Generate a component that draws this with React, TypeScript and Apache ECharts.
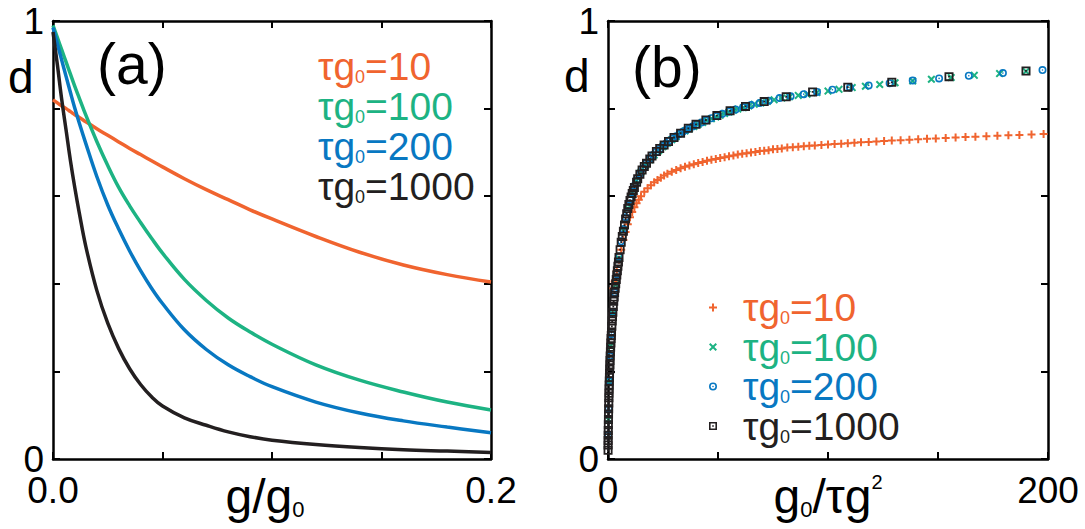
import React, { useEffect, useRef } from "react";
import * as echarts from "echarts";

const FONT = '"Liberation Sans", Arial, Helvetica, sans-serif';
const ORANGE = "#F0642F";
const GREEN = "#1DB383";
const BLUE = "#0878C2";
const BLACK = "#231F20";

const tauLabels = ["10", "100", "200", "1000"];
const colors = [ORANGE, GREEN, BLUE, BLACK];

// Panel (a): d versus g/g0
const gA = [0, 0.002, 0.004, 0.006, 0.008, 0.01, 0.012, 0.015, 0.02, 0.025, 0.03, 0.035, 0.04, 0.045, 0.05, 0.06, 0.07, 0.08, 0.09, 0.1, 0.12, 0.14, 0.16, 0.18, 0.2];
const dA10 = [0.82, 0.813, 0.806, 0.8, 0.793, 0.786, 0.78, 0.77, 0.754, 0.739, 0.724, 0.709, 0.695, 0.681, 0.667, 0.64, 0.615, 0.592, 0.569, 0.548, 0.508, 0.472, 0.443, 0.421, 0.404];
const dA100 = [0.99, 0.962, 0.934, 0.906, 0.878, 0.85, 0.824, 0.785, 0.725, 0.67, 0.62, 0.578, 0.54, 0.504, 0.47, 0.41, 0.362, 0.322, 0.29, 0.262, 0.215, 0.18, 0.153, 0.13, 0.112];
const dA200 = [0.985, 0.948, 0.91, 0.873, 0.836, 0.8, 0.767, 0.72, 0.645, 0.58, 0.525, 0.475, 0.43, 0.39, 0.355, 0.295, 0.25, 0.215, 0.188, 0.165, 0.13, 0.105, 0.087, 0.073, 0.06];
const dA1000 = [0.975, 0.9, 0.82, 0.75, 0.68, 0.618, 0.562, 0.485, 0.385, 0.31, 0.252, 0.206, 0.17, 0.142, 0.121, 0.094, 0.077, 0.062, 0.051, 0.043, 0.033, 0.026, 0.021, 0.018, 0.015];

// Panel (b): d versus g0/(tau g^2)
const bX10 = [198, 192.5, 187, 182, 177, 172, 167, 162.5, 158, 153.5, 149, 145, 141, 137, 133, 129, 125.5, 122, 118.5, 115, 112, 109, 106, 103, 100, 97, 94, 91.5, 89, 86.5, 84, 81.5, 79, 77, 75, 73, 71, 69, 67, 65, 63, 61, 59, 57, 55, 53, 51, 49, 47, 45, 43, 41, 39, 37, 35, 33, 31, 29, 27, 25.5, 24, 22.5, 21, 19.5, 18, 16.5, 15, 14, 13, 12, 11, 10, 9, 8, 7, 6, 5, 4, 3, 2.5];
const bD10 = [0.742, 0.741, 0.74, 0.739, 0.738, 0.737, 0.736, 0.735, 0.734, 0.733, 0.732, 0.731, 0.73, 0.729, 0.728, 0.727, 0.726, 0.725, 0.724, 0.723, 0.722, 0.721, 0.72, 0.719, 0.718, 0.717, 0.716, 0.715, 0.714, 0.713, 0.712, 0.711, 0.709, 0.708, 0.707, 0.705, 0.704, 0.703, 0.701, 0.7, 0.698, 0.697, 0.695, 0.693, 0.691, 0.689, 0.687, 0.685, 0.683, 0.681, 0.678, 0.676, 0.673, 0.67, 0.667, 0.664, 0.66, 0.656, 0.651, 0.647, 0.642, 0.637, 0.632, 0.625, 0.618, 0.61, 0.6, 0.592, 0.584, 0.575, 0.564, 0.552, 0.536, 0.518, 0.5, 0.478, 0.455, 0.43, 0.405, 0.39];

const bX100 = [190, 178, 166.5, 156, 147, 138.5, 130.5, 123.5, 117, 111, 105, 100, 95, 90.5, 86.5, 82.5, 79, 75.5, 72.5, 69.5, 66.5, 64, 61.5, 59, 57, 55, 53, 51, 49, 47, 45, 43, 41, 39, 37, 35, 33, 31, 29, 27, 25, 23, 21, 19, 17, 15, 13, 11, 9, 7, 5, 3.5, 2.2, 1.2, 0.6, 0.2];
const bD100 = [0.885, 0.88, 0.876, 0.871, 0.867, 0.863, 0.859, 0.855, 0.851, 0.848, 0.844, 0.84, 0.837, 0.833, 0.83, 0.827, 0.824, 0.82, 0.817, 0.813, 0.81, 0.806, 0.802, 0.799, 0.796, 0.792, 0.789, 0.785, 0.781, 0.777, 0.773, 0.768, 0.764, 0.759, 0.754, 0.749, 0.743, 0.736, 0.729, 0.721, 0.713, 0.704, 0.694, 0.683, 0.67, 0.655, 0.635, 0.608, 0.572, 0.522, 0.458, 0.398, 0.332, 0.258, 0.176, 0.09];

const bX200 = [197.5, 179.5, 164, 150.5, 138.5, 128, 118.5, 110, 102, 95, 89, 83, 78, 73, 69, 65, 61.5, 58, 55, 52, 49.5, 47, 44.5, 42.5, 40.5, 38.5, 37, 35.5, 34, 32.5, 31, 29.5, 28, 26.5, 25, 23.5, 22, 20.5, 19, 17.5, 16, 14.5, 13, 12, 11, 10, 9, 8, 7, 6, 5, 4, 3, 2.2, 1.5, 1.0, 0.6, 0.3, 0.1];
const bD200 = [0.888, 0.881, 0.875, 0.869, 0.864, 0.858, 0.853, 0.848, 0.843, 0.838, 0.833, 0.828, 0.824, 0.818, 0.813, 0.808, 0.803, 0.798, 0.793, 0.788, 0.783, 0.778, 0.773, 0.768, 0.764, 0.759, 0.755, 0.751, 0.747, 0.742, 0.737, 0.732, 0.727, 0.721, 0.715, 0.708, 0.701, 0.694, 0.685, 0.675, 0.664, 0.651, 0.636, 0.624, 0.609, 0.592, 0.574, 0.552, 0.525, 0.497, 0.462, 0.422, 0.38, 0.335, 0.285, 0.235, 0.178, 0.115, 0.055];

const bX1000 = [190, 155, 129, 109, 93, 81, 71, 62.5, 55.5, 49.5, 44.5, 40, 36.5, 33, 30, 27.5, 25.5, 23.5, 22, 20, 19, 17.5, 16.5, 15.5, 14.5, 13.5, 13, 12, 11.5, 11, 10.5, 10, 9.5, 9, 8.5, 8, 7.5, 7, 6.5, 6, 5.5, 5, 4.75, 4.5, 4.25, 4, 3.75, 3.5, 3.25, 3, 2.8, 2.6, 2.4, 2.2, 2.05, 1.9, 1.75, 1.6, 1.5, 1.4, 1.3, 1.2, 1.1, 1.0, 0.92, 0.85, 0.78, 0.7, 0.65, 0.6, 0.55, 0.5, 0.45, 0.4, 0.35, 0.3, 0.25, 0.2, 0.16, 0.12, 0.09, 0.06, 0.045, 0.03];
const bD1000 = [0.886, 0.873, 0.86, 0.849, 0.838, 0.827, 0.816, 0.805, 0.795, 0.784, 0.774, 0.764, 0.755, 0.744, 0.734, 0.725, 0.717, 0.709, 0.702, 0.692, 0.685, 0.675, 0.668, 0.66, 0.65, 0.64, 0.632, 0.62, 0.613, 0.606, 0.598, 0.59, 0.581, 0.572, 0.56, 0.548, 0.534, 0.52, 0.508, 0.495, 0.478, 0.46, 0.45, 0.44, 0.43, 0.42, 0.41, 0.4, 0.39, 0.38, 0.37, 0.36, 0.348, 0.335, 0.325, 0.315, 0.303, 0.29, 0.282, 0.275, 0.265, 0.255, 0.245, 0.235, 0.225, 0.215, 0.205, 0.195, 0.186, 0.178, 0.169, 0.16, 0.15, 0.14, 0.128, 0.115, 0.103, 0.09, 0.078, 0.065, 0.054, 0.042, 0.032, 0.02];

const SYM_PLUS = "path://M3,0H5V3H8V5H5V8H3V5H0V3H3Z";
const SYM_CROSS = "path://M1.4,0L4,2.6L6.6,0L8,1.4L5.4,4L8,6.6L6.6,8L4,5.4L1.4,8L0,6.6L2.6,4L0,1.4Z";
const SYM_CIRC = "path://M5,0A5,5,0,1,0,5,10A5,5,0,1,0,5,0Z M5,2A3,3,0,1,1,5,8A3,3,0,1,1,5,2Z M5,4A1,1,0,1,0,5,6A1,1,0,1,0,5,4Z";
const SYM_SQ = "path://M0,0H10V10H0Z M2,2V8H8V2Z M4,4H6V6H4Z";
const symbols = [SYM_PLUS, SYM_CROSS, SYM_CIRC, SYM_SQ];
const symbolSizes = [8, 8, 8, 9];

const zip = (xs: number[], ys: number[]) => xs.map((x, i) => [x, ys[i]]);

const BIG = 39;
const richFor = (color: string, F = BIG) => {
  const fs = Math.round(F * 0.45);
  const fp = Math.round(F * 0.42);
  return {
    n: { color, fontSize: F, fontFamily: FONT, lineHeight: F },
    s: { color, fontSize: fs, fontFamily: FONT, lineHeight: Math.round(0.307 * F + 0.693 * fs), verticalAlign: "bottom" },
    p: { color, fontSize: fp, fontFamily: FONT, lineHeight: Math.round(0.26 * F + 0.74 * fp), verticalAlign: "top" },
  };
};

const legendText = (name: string) => `{n|τg}{s|0}{n|=${name.split(":")[1]}}`;

export default function App() {
  const ref = useRef<HTMLDivElement>(null);
  useEffect(() => {
    if (!ref.current) return;
    const chart = echarts.init(ref.current, undefined, { renderer: "svg" });
    const axisLine = { show: true, onZero: false, lineStyle: { color: "#000", width: 2.5 } };
    const tick = { show: true, inside: true, length: 7, lineStyle: { color: "#000", width: 2 } };
    const tickLabel = { color: "#000", fontSize: 37, fontFamily: FONT };
    const grids = [
      { left: 53, top: 21, width: 438, height: 438, containLabel: false, outerBoundsMode: "none" },
      { left: 608, top: 21, width: 440, height: 438, containLabel: false, outerBoundsMode: "none" },
    ];
    const xMax = [0.2, 200];
    const xInt = [0.05, 50];
    const xAxes: any[] = [];
    const yAxes: any[] = [];
    [0, 1].forEach((gi) => {
      xAxes.push({
        type: "value", gridIndex: gi, position: "bottom", min: 0, max: xMax[gi], interval: xInt[gi],
        axisLine, axisTick: tick, splitLine: { show: false },
        axisLabel: {
          ...tickLabel, lineHeight: 28, margin: 17, showMinLabel: true, showMaxLabel: true,
          formatter: (v: number) => (v === 0 ? (gi === 0 ? "0.0" : "0") : v > xMax[gi] * 0.99 ? (gi === 0 ? "0.2" : "200") : ""),
        },
        name: gi === 0 ? "{n|g/g}{s|0}" : "{n|g}{s|0}{n|/τg}{p|2}",
        nameLocation: "middle", nameGap: 13, nameMoveOverlap: false,
        nameTextStyle: { rich: richFor("#000", 48), padding: gi === 0 ? [0, 14, 0, 0] : 0 },
      });
      xAxes.push({
        type: "value", gridIndex: gi, position: "top", min: 0, max: xMax[gi], interval: xInt[gi],
        axisLine, axisTick: tick, splitLine: { show: false }, axisLabel: { show: false },
      });
      yAxes.push({
        type: "value", gridIndex: gi, position: "left", min: 0, max: 1, interval: 0.2,
        axisLine, axisTick: tick, splitLine: { show: false },
        axisLabel: { ...tickLabel, lineHeight: 26, margin: 9, formatter: (v: number) => (v === 0 ? "0" : v > 0.99 ? "1" : "") },
      });
      yAxes.push({
        type: "value", gridIndex: gi, position: "right", min: 0, max: 1, interval: 0.2,
        axisLine, axisTick: tick, splitLine: { show: false }, axisLabel: { show: false },
      });
    });

    const aData = [dA10, dA100, dA200, dA1000];
    const bData = [zip(bX10, bD10), zip(bX100, bD100), zip(bX200, bD200), zip(bX1000, bD1000)];
    const series: any[] = [];
    tauLabels.forEach((t, i) => {
      series.push({
        type: "line", name: "a:" + t, xAxisIndex: 0, yAxisIndex: 0,
        data: zip(gA, aData[i]), showSymbol: false, symbol: "none", smooth: 0.4,
        lineStyle: { color: colors[i], width: 3.5 }, itemStyle: { color: colors[i] },
      });
    });
    tauLabels.forEach((t, i) => {
      series.push({
        type: "scatter", name: "b:" + t, xAxisIndex: 2, yAxisIndex: 2,
        data: bData[i], symbol: symbols[i], symbolSize: symbolSizes[i],
        itemStyle: { color: colors[i], opacity: 1 },
      });
    });

    const legendItem = (prefix: string, i: number, pad?: number[]) => ({
      name: prefix + tauLabels[i],
      textStyle: { color: colors[i], fontSize: BIG, fontFamily: FONT, rich: richFor(colors[i]), ...(pad ? { padding: pad } : {}) },
    });

    chart.setOption({
      animation: false,
      backgroundColor: "#fff",
      textStyle: { fontFamily: FONT },
      grid: grids,
      xAxis: xAxes,
      yAxis: yAxes,
      series,
      legend: [
        {
          orient: "vertical", left: 308, top: 42, icon: "none", itemWidth: 0, itemHeight: 0, itemGap: 1,
          selectedMode: false, formatter: legendText,
          data: [0, 1, 2, 3].map((i) => legendItem("a:", i)),
        },
        {
          orient: "vertical", left: 704, top: 283, itemWidth: 8, itemHeight: 8, itemGap: 0.5,
          selectedMode: false, formatter: legendText,
          data: [0, 1, 2, 3].map((i) => ({ ...legendItem("b:", i, [0, 0, 0, 21]), icon: symbols[i] })),
        },
      ],
      graphic: [
        { type: "text", x: 97, y: 64, style: { text: "(a)", fontSize: 57, fontFamily: FONT, fill: "#000", verticalAlign: "middle" } },
        { type: "text", x: 632, y: 67, style: { text: "(b)", fontSize: 57, fontFamily: FONT, fill: "#000", verticalAlign: "middle" } },
        { type: "text", x: 8, y: 77, style: { text: "d", fontSize: 46, fontFamily: FONT, fill: "#000", verticalAlign: "middle" } },
        { type: "text", x: 564, y: 76, style: { text: "d", fontSize: 46, fontFamily: FONT, fill: "#000", verticalAlign: "middle" } },
      ],
    });
    return () => chart.dispose();
  }, []);
  return <div ref={ref} style={{ position: "absolute", left: 0, top: 0, width: 1085, height: 529 }} />;
}
